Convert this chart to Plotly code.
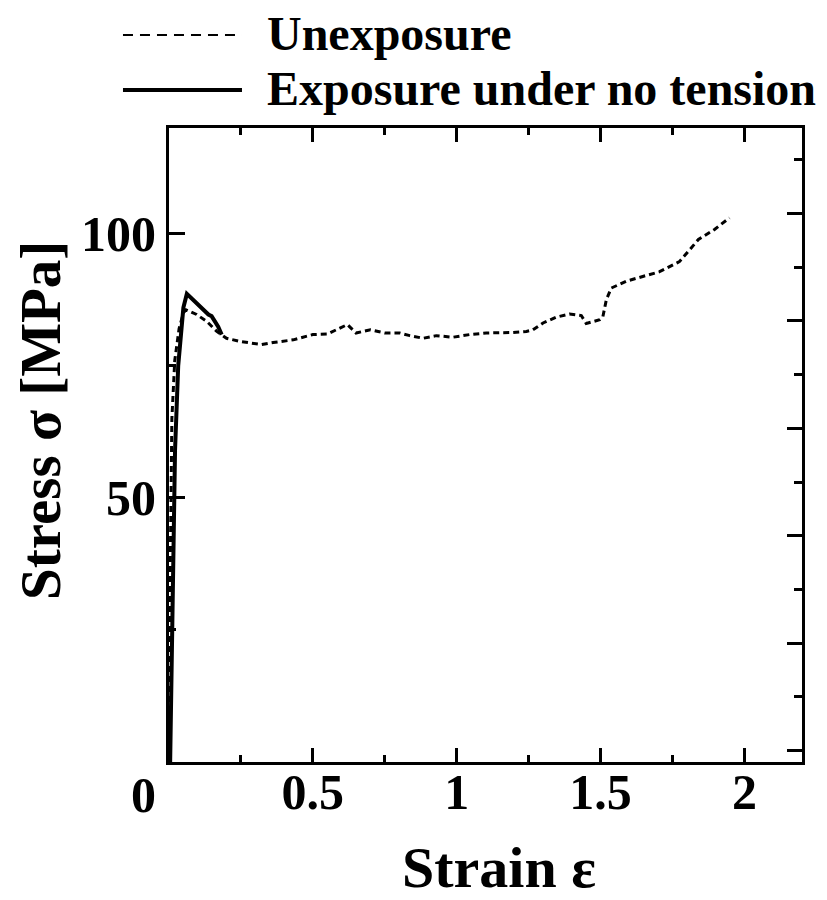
import plotly.graph_objects as go

# ---- data ----
strain_exposed = [0.004, 0.008, 0.013, 0.021, 0.032, 0.042, 0.050, 0.062, 0.080, 0.100,
                  0.120, 0.137, 0.148, 0.160, 0.171, 0.183]
stress_exposed = [0.0, 15.0, 34.0, 59.0, 75.0, 81.0, 86.0, 88.6, 87.6, 86.6,
                  85.6, 84.7, 84.4, 83.4, 82.4, 80.9]

strain_unexposed = [0.002, 0.005, 0.010, 0.020, 0.035, 0.050, 0.059, 0.096, 0.131, 0.166,
                    0.200, 0.247, 0.322, 0.362, 0.432, 0.500, 0.550, 0.600, 0.620, 0.650,
                    0.700, 0.750, 0.802, 0.837, 0.883, 0.929, 0.987, 1.045, 1.103, 1.196,
                    1.242, 1.265, 1.300, 1.346, 1.392, 1.433, 1.450, 1.497, 1.508, 1.520,
                    1.537, 1.589, 1.635, 1.705, 1.774, 1.810, 1.840, 1.896, 1.948]
stress_unexposed = [0.0, 40.0, 65.0, 76.0, 82.0, 85.0, 85.6, 84.7, 83.4, 81.5,
                    80.2, 79.6, 79.0, 79.4, 79.9, 80.9, 81.0, 82.2, 82.8, 81.2,
                    81.8, 81.2, 81.2, 80.7, 80.2, 80.7, 80.4, 80.9, 81.2, 81.3,
                    81.5, 81.8, 83.1, 84.2, 84.8, 84.5, 83.0, 83.7, 84.3, 87.5,
                    89.7, 91.0, 91.7, 92.8, 94.7, 97.0, 98.9, 100.8, 103.0]

x_tick_vals = [0, 0.5, 1, 1.5, 2]
x_tick_text = ["", "0.5", "1", "1.5", "2"]
x_minor_vals = [0.25, 0.75, 1.25, 1.75]
y_tick_vals = [0, 50, 100]
y_tick_text = ["", "50", "100"]
y_minor_vals = [25, 75]

series_names = ["Unexposure", "Exposure under no tension"]

FONT = "Liberation Serif"

fig = go.Figure()
fig.add_trace(go.Scatter(x=strain_unexposed, y=stress_unexposed, mode="lines",
                         name=series_names[0],
                         line=dict(color="black", width=3, dash="6px,4px")))
fig.add_trace(go.Scatter(x=strain_exposed, y=stress_exposed, mode="lines",
                         name=series_names[1],
                         line=dict(color="black", width=4)))
# invisible trace to host the right-hand axis
fig.add_trace(go.Scatter(x=[None], y=[None], yaxis="y2", showlegend=False,
                         hoverinfo="skip"))

tick_font = dict(family=FONT, size=50, color="black", weight="bold")

fig.update_layout(
    width=819, height=892,
    margin=dict(l=161, r=25, t=120, b=138),
    paper_bgcolor="white", plot_bgcolor="white",
    showlegend=False,
    xaxis=dict(range=[0, 2.2], tickmode="array", tickvals=x_tick_vals, ticktext=x_tick_text,
               ticks="inside", ticklen=14, tickwidth=3, tickcolor="black",
               showline=True, linewidth=3, linecolor="black", mirror="ticks",
               showgrid=False, zeroline=False, tickfont=tick_font,
               ticklabelstandoff=-16,
               minor=dict(tickmode="array", tickvals=x_minor_vals, ticks="inside",
                          ticklen=7, tickwidth=3, tickcolor="black", showgrid=False)),
    yaxis=dict(range=[0, 120], tickmode="array", tickvals=y_tick_vals, ticktext=y_tick_text,
               ticks="inside", ticklen=16, tickwidth=3, tickcolor="black",
               showline=True, linewidth=3, linecolor="black", mirror=True,
               showgrid=False, zeroline=False, tickfont=tick_font,
               minor=dict(tickmode="array", tickvals=y_minor_vals, ticks="inside",
                          ticklen=7, tickwidth=3, tickcolor="black", showgrid=False)),
    yaxis2=dict(range=[-2.1, 115.9], overlaying="y", side="right", tick0=0, dtick=20,
                ticks="inside", ticklen=15, tickwidth=3, tickcolor="black",
                showticklabels=False, showline=False, showgrid=False, zeroline=False,
                minor=dict(dtick=10, ticks="inside", ticklen=8, tickwidth=3,
                           tickcolor="black", showgrid=False)),
)

# axis titles and origin label
fig.add_annotation(text="Strain ε", xref="paper", yref="paper", x=0.521, y=-0.167,
                   showarrow=False, xanchor="center", yanchor="middle",
                   font=dict(family=FONT, size=58, color="black", weight="bold"))
fig.add_annotation(text="Stress σ [MPa]", xref="paper", yref="paper", x=-0.2022, y=0.538,
                   showarrow=False, xanchor="center", yanchor="middle", textangle=-90,
                   font=dict(family=FONT, size=57, color="black", weight="bold"))
fig.add_annotation(text="0", xref="paper", yref="paper", x=-0.041, y=-0.052,
                   showarrow=False, xanchor="center", yanchor="middle",
                   font=tick_font)

# legend drawn manually (long line samples)
legend_y = [1.1467, 1.06]
legend_dash = ["10px,7px", "solid"]
legend_w = [2, 4]
for name, ly, dsh, w in zip(series_names, legend_y, legend_dash, legend_w):
    fig.add_shape(type="line", xref="paper", yref="paper", x0=-0.0727, x1=0.1153,
                  y0=ly, y1=ly, line=dict(color="black", width=w, dash=dsh))
    fig.add_annotation(text=name, xref="paper", yref="paper", x=0.152, y=ly + 0.003,
                       showarrow=False, xanchor="left", yanchor="middle",
                       font=dict(family=FONT, size=48, color="black", weight="bold"))

fig.write_html("out.html")
